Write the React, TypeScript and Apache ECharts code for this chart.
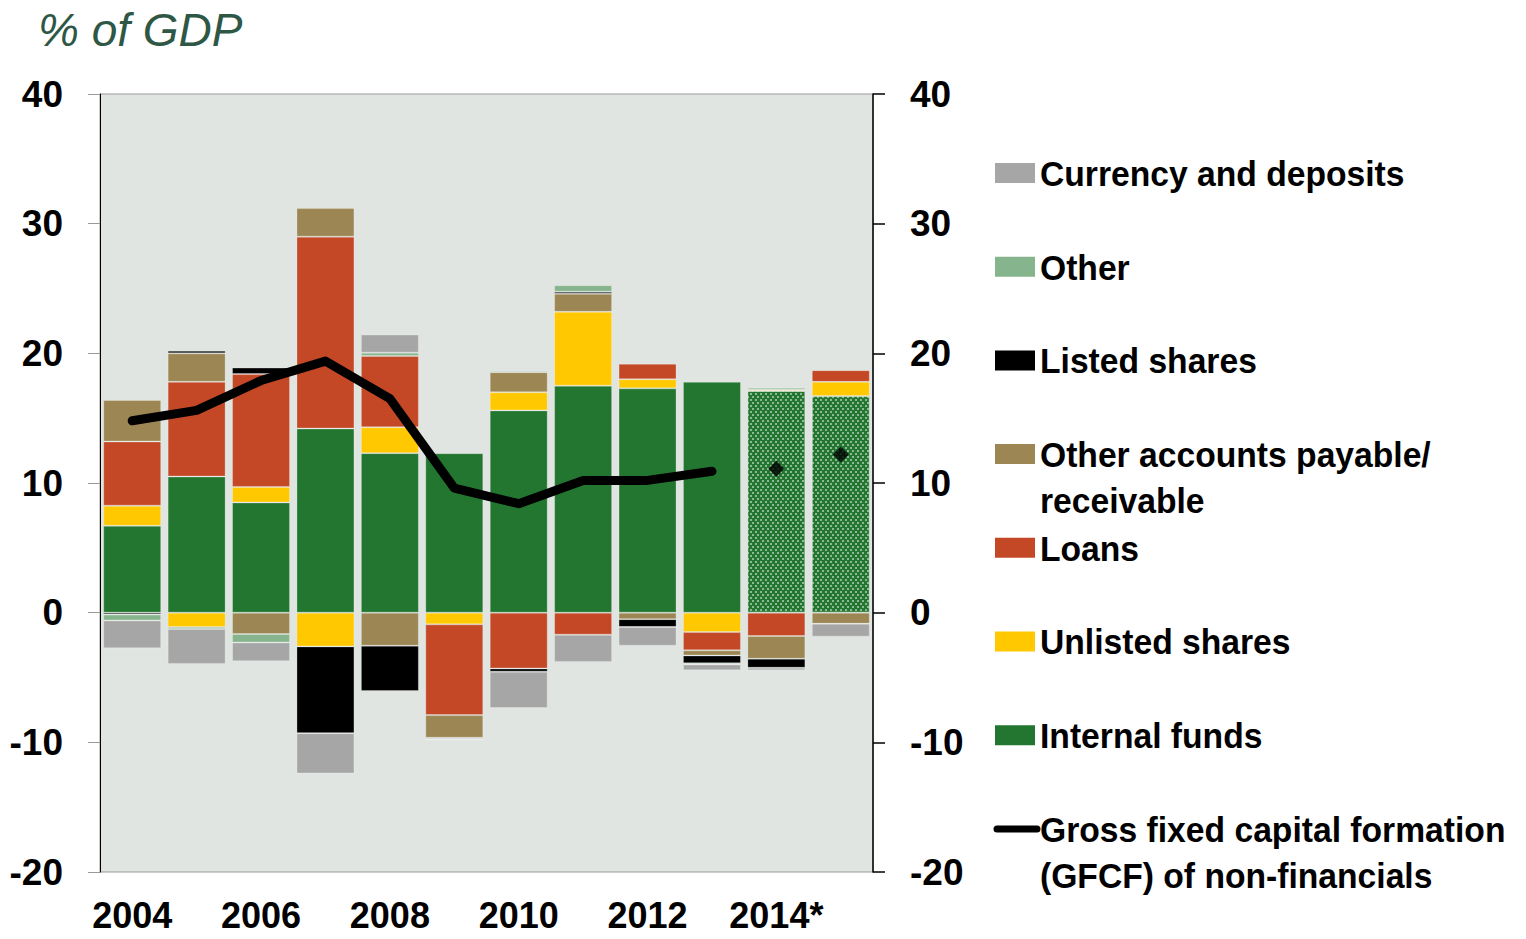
import React, { useEffect, useRef } from "react";
import * as echarts from "echarts";

const years = ["2004", "2005", "2006", "2007", "2008", "2009", "2010", "2011", "2012", "2013", "2014*", "2015"];

const internalFunds = [6.7, 10.5, 8.5, 14.2, 12.3, 12.3, 15.6, 17.5, 17.3, 17.8, 17.1, 16.7];
const unlistedShares = [1.55, -1.1, 1.2, -2.6, 2.0, -0.9, 1.4, 5.7, 0.7, -1.5, 0.1, 1.1];
const loans = [4.95, 7.3, 8.7, 14.8, 5.5, -7.0, -4.3, -1.7, 1.2, -1.4, -1.8, 0.9];
const otherAccounts = [3.2, 2.2, -1.65, 2.2, -2.55, -1.75, 1.55, 1.4, -0.5, -0.4, -1.75, -0.85];
const listedShares = [-0.15, 0.2, 0.5, -6.7, -3.5, -0.1, -0.25, 0.15, -0.6, -0.6, -0.7, 0];
const other = [-0.45, -0.15, -0.65, 0, 0.25, 0, 0.1, 0.5, 0, -0.1, 0.15, 0.1];
const currency = [-2.15, -2.7, -1.45, -3.1, 1.4, 0, -2.8, -2.1, -1.45, -0.45, -0.2, -1.0];
const gfcf = [14.8, 15.6, 17.9, 19.4, 16.5, 9.6, 8.4, 10.2, 10.2, 10.9, null, null];
const gfcfForecast = [null, null, null, null, null, null, null, null, null, null, 11.1, 12.2];
const forecastFrom = 10;

const yTicks = { min: -20, max: 40, interval: 10 };

const FONT = "'Liberation Sans', Arial, sans-serif";

const barSeries = [
  { name: "Internal funds", data: internalFunds, color: "#22762f" },
  { name: "Unlisted shares", data: unlistedShares, color: "#ffc800" },
  { name: "Loans", data: loans, color: "#c44826" },
  { name: "Other accounts payable/\nreceivable", data: otherAccounts, color: "#9c8754" },
  { name: "Listed shares", data: listedShares, color: "#000000" },
  { name: "Other", data: other, color: "#86b48c" },
  { name: "Currency and deposits", data: currency, color: "#a6a6a6" },
];

const legendOrder = [6, 5, 4, 3, 2, 1, 0];
const lineName = "Gross fixed capital formation\n(GFCF) of non-financials";

export default function App() {
  const ref = useRef<HTMLDivElement>(null);
  useEffect(() => {
    document.body.style.margin = "0";
    document.body.style.overflow = "hidden";
    const chart = echarts.init(ref.current!, undefined, { renderer: "svg" });

    const decal = {
      symbol: "rect",
      symbolSize: 0.8,
      color: "rgba(255,255,255,0.8)",
      dashArrayX: [[2, 3], [0, 2, 2, 1]],
      dashArrayY: [2, 1],
      rotation: 0,
    };

    const series: any[] = barSeries.map((s, si) => ({
      name: s.name,
      type: "bar",
      stack: "total",
      barWidth: "90%",
      itemStyle: { color: s.color, borderColor: "rgba(255,255,255,0.25)", borderWidth: 1 },
      data: s.data.map((v, i) =>
        si === 0 && i >= forecastFrom ? { value: v, itemStyle: { decal } } : v
      ),
      z: 2,
    }));
    series.push({
      name: lineName,
      type: "line",
      data: gfcf,
      showSymbol: false,
      symbol: "none",
      lineStyle: { color: "#000", width: 9, cap: "round", join: "round" },
      z: 5,
    });
    series.push({
      name: "GFCF forecast",
      type: "scatter",
      data: gfcfForecast,
      symbol: "diamond",
      symbolSize: 16,
      itemStyle: { color: "#000" },
      z: 6,
    });

    const textStyle = (text: string) => ({
      text,
      fontFamily: FONT,
      fontWeight: "bold",
      fontSize: 36,
      lineHeight: 46,
      fill: "#000",
      verticalAlign: "top",
      align: "left",
    });

    const legendGraphics: any[] = [];
    const startY = 173;
    const step = 93.7;
    legendOrder.forEach((idx, k) => {
      const cy = startY + step * k;
      legendGraphics.push({
        type: "rect",
        shape: { x: 995, y: cy - 10, width: 40, height: 20 },
        style: { fill: barSeries[idx].color },
      });
      legendGraphics.push({
        type: "text",
        x: 1040,
        y: cy - 23,
        scaleX: 0.935,
        style: textStyle(barSeries[idx].name),
      });
    });
    {
      const cy = startY + step * 7;
      legendGraphics.push({
        type: "line",
        shape: { x1: 997, y1: cy, x2: 1037, y2: cy },
        style: { stroke: "#000", lineWidth: 7, lineCap: "round" },
      });
      legendGraphics.push({
        type: "text",
        x: 1040,
        y: cy - 23,
        scaleX: 0.935,
        style: textStyle(lineName),
      });
    }

    chart.setOption({
      animation: false,
      backgroundColor: "#ffffff",
      title: {
        text: "% of GDP",
        left: 33,
        top: 2,
        textStyle: {
          fontFamily: FONT,
          fontStyle: "italic",
          fontWeight: "normal",
          fontSize: 46,
          color: "#2e5746",
        },
      },
      grid: {
        left: 100,
        right: 653,
        top: 94,
        bottom: 67,
        show: true,
        backgroundColor: "#e0e5e1",
        borderColor: "#999999",
        borderWidth: 1,
        outerBoundsMode: "none",
        containLabel: false,
      },
      xAxis: {
        type: "category",
        data: years,
        axisLine: { show: false },
        axisTick: { show: false },
        axisLabel: {
          interval: 1,
          margin: 25,
          fontFamily: FONT,
          fontWeight: "bold",
          fontSize: 36,
          color: "#000",
        },
      },
      yAxis: [
        {
          type: "value",
          position: "left",
          min: yTicks.min,
          max: yTicks.max,
          interval: yTicks.interval,
          axisLine: { show: true, lineStyle: { color: "#000", width: 1 } },
          axisTick: { show: true, length: 12, lineStyle: { color: "#999999" } },
          splitLine: { show: false },
          axisLabel: {
            margin: 37,
            fontFamily: FONT,
            fontWeight: "bold",
            fontSize: 37,
            color: "#000",
          },
        },
        {
          type: "value",
          position: "right",
          min: yTicks.min,
          max: yTicks.max,
          interval: yTicks.interval,
          axisLine: { show: true, lineStyle: { color: "#000", width: 1.5 } },
          axisTick: { show: true, length: 12, lineStyle: { color: "#000", width: 1.5 } },
          splitLine: { show: false },
          axisLabel: {
            margin: 37,
            fontFamily: FONT,
            fontWeight: "bold",
            fontSize: 37,
            color: "#000",
          },
        },
      ],
      graphic: legendGraphics,
      series,
    });
    return () => chart.dispose();
  }, []);
  return <div ref={ref} style={{ width: 1526, height: 939 }} />;
}
